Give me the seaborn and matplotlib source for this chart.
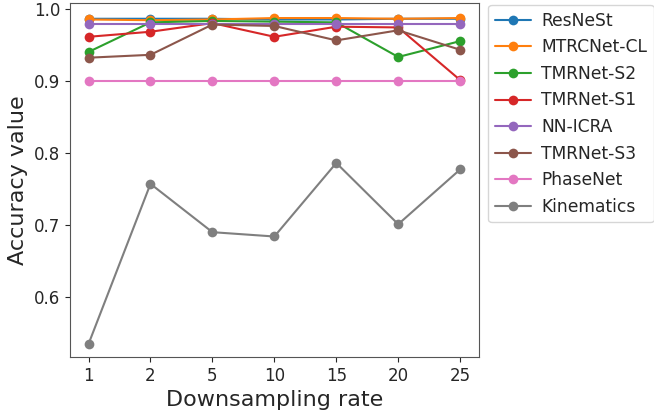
import matplotlib
matplotlib.use("Agg")
import matplotlib.pyplot as plt
import seaborn as sns
import pandas as pd

rates = ["1", "2", "5", "10", "15", "20", "25"]
methods = ["ResNeSt", "MTRCNet-CL", "TMRNet-S2", "TMRNet-S1",
           "NN-ICRA", "TMRNet-S3", "PhaseNet", "Kinematics"]

resnest = [0.986, 0.986, 0.986, 0.985, 0.985, 0.986, 0.986]
mtrcnet_cl = [0.985, 0.984, 0.985, 0.987, 0.987, 0.986, 0.987]
tmrnet_s2 = [0.940, 0.981, 0.983, 0.982, 0.981, 0.933, 0.955]
tmrnet_s1 = [0.961, 0.968, 0.980, 0.961, 0.975, 0.974, 0.901]
nn_icra = [0.979, 0.979, 0.979, 0.979, 0.979, 0.979, 0.979]
tmrnet_s3 = [0.932, 0.936, 0.978, 0.976, 0.956, 0.970, 0.943]
phasenet = [0.900, 0.900, 0.900, 0.900, 0.900, 0.900, 0.900]
kinematics = [0.535, 0.757, 0.690, 0.684, 0.786, 0.701, 0.777]

series = [resnest, mtrcnet_cl, tmrnet_s2, tmrnet_s1,
          nn_icra, tmrnet_s3, phasenet, kinematics]

rows = []
for name, vals in zip(methods, series):
    for i, v in enumerate(vals):
        rows.append({"pos": i, "method": name, "acc": v})
df = pd.DataFrame(rows)

sns.set_style("ticks")
plt.rcParams["font.family"] = ["DejaVu Sans"]

fig = plt.figure(figsize=(6.54, 4.15), dpi=100)
ax = fig.add_axes([0.107, 0.140, 0.625, 0.853])

sns.lineplot(data=df, x="pos", y="acc", hue="method", hue_order=methods,
             palette="tab10", marker="o", markersize=7, markeredgewidth=0,
             linewidth=1.5, ax=ax)

ax.set_xticks(range(len(rates)))
ax.set_xticklabels(rates)
ax.set_xlim(-0.3, 6.3)
ax.set_ylim(0.517, 1.008)
ax.set_yticks([0.6, 0.7, 0.8, 0.9, 1.0])
ax.tick_params(labelsize=12)
ax.set_xlabel("Downsampling rate", fontsize=16)
ax.set_ylabel("Accuracy value", fontsize=16)
for s in ax.spines.values():
    s.set_color("#555555")

ax.legend(loc="upper left", bbox_to_anchor=(1.023, 0.994), fontsize=12.3,
          frameon=True, borderaxespad=0, handlelength=2.1,
          handletextpad=0.6)

fig.savefig("out.png", dpi=100)
